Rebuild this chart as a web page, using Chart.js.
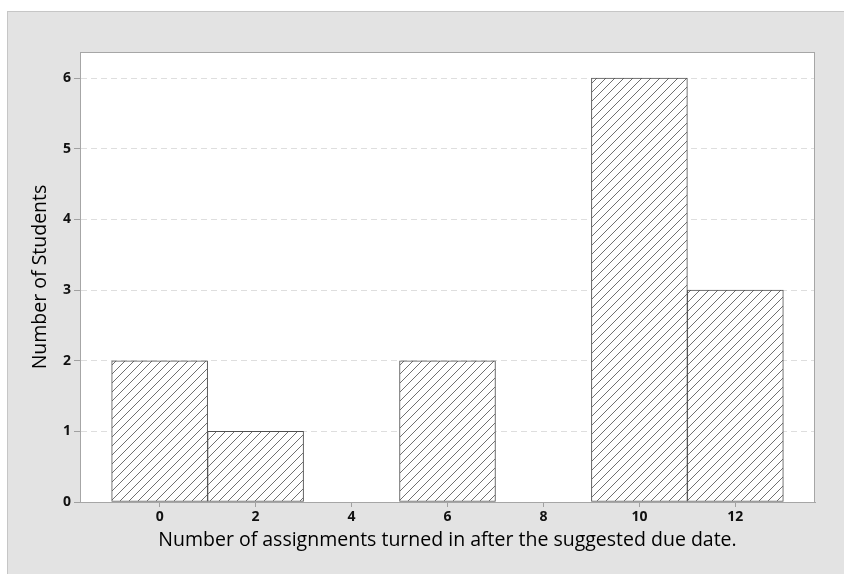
<!DOCTYPE html>
<html>
<head>
<meta charset="utf-8">
<script src="https://cdn.jsdelivr.net/npm/chart.js@4.4.0/dist/chart.umd.min.js"></script>
<style>
  html, body { margin: 0; padding: 0; background: #fff; }
  #frame { position: absolute; left: 7px; top: 11px; width: 837px; height: 563px;
           background: #e3e3e3; border-top: 1px solid #c6c6c6; border-left: 1px solid #c6c6c6; box-sizing: border-box; }
  #wrap { position: absolute; left: 0; top: 0; width: 844px; height: 574px; }
</style>
</head>
<body>
<div id="frame"></div>
<div id="wrap"><canvas id="histo" width="844" height="574"></canvas></div>
<script>
// bin midpoints and counts
var BINS = [0, 2, 4, 6, 8, 10, 12];
var COUNTS = [2, 1, 0, 2, 0, 6, 3];
var Y_TICKS = [0, 1, 2, 3, 4, 5, 6];
var X_TICKS = [0, 2, 4, 6, 8, 10, 12];
var X_TITLE = "Number of assignments turned in after the suggested due date.";
var Y_TITLE = "Number of Students";

function hatchPattern() {
	var s = 9;
	var c = document.createElement('canvas');
	c.width = s; c.height = s;
	var g = c.getContext('2d');
	g.fillStyle = '#ffffff';
	g.fillRect(0, 0, s, s);
	g.strokeStyle = '#707070';
	g.lineWidth = 1;
	g.beginPath();
	g.moveTo(-1, s + 1); g.lineTo(s + 1, -1);
	g.moveTo(-1, 1); g.lineTo(1, -1);
	g.moveTo(s - 1, s + 1); g.lineTo(s + 1, s - 1);
	g.stroke();
	return g.createPattern(c, 'repeat');
}

var plotFrame = {
	id: 'plotFrame',
	beforeDraw: function (chart) {
		var a = chart.chartArea, ctx = chart.ctx;
		ctx.save();
		ctx.fillStyle = '#ffffff';
		ctx.fillRect(a.left, a.top, a.right - a.left, a.bottom - a.top);
		ctx.restore();
	},
	afterDraw: function (chart) {
		var a = chart.chartArea, ctx = chart.ctx;
		ctx.save();
		ctx.strokeStyle = '#a6a6a6';
		ctx.lineWidth = 1;
		ctx.strokeRect(a.left + 0.5, a.top + 0.5, a.right - a.left - 1, a.bottom - a.top);
		ctx.restore();
	}
};

var data = BINS.map(function (b, i) { return { x: b, y: COUNTS[i] }; });
var tickFont = { family: 'Open Sans', size: 14, weight: 'bold' };
var titleFont = { family: 'Open Sans', size: 19.5 };

var ctx = document.getElementById('histo').getContext('2d');
window.myHisto = new Chart(ctx, {
	type: 'bar',
	data: {
		datasets: [{
			data: data,
			backgroundColor: hatchPattern(),
			borderColor: '#505050',
			borderWidth: 1,
			barPercentage: 1,
			categoryPercentage: 1,
			borderSkipped: false
		}]
	},
	options: {
		responsive: false,
		animation: false,
		layout: { padding: { top: 52, right: 29, left: 0, bottom: 0 } },
		plugins: { legend: { display: false }, tooltip: { enabled: false } },
		scales: {
			x: {
				type: 'linear',
				min: -1.66,
				max: 13.66,
				offset: false,
				afterBuildTicks: function (scale) { scale.ticks = X_TICKS.map(function (v) { return { value: v }; }); },
				afterFit: function (scale) { scale.height = 72; },
				grid: { display: true, offset: false, drawOnChartArea: false, drawTicks: true, tickLength: 5, tickColor: '#a0a0a0' },
				border: { display: true, color: '#a6a6a6' },
				ticks: { color: '#111', font: tickFont, padding: 2, maxRotation: 0, autoSkip: false },
				title: { display: true, text: X_TITLE, color: '#000', font: titleFont, padding: { top: 0, bottom: 22 } }
			},
			y: {
				min: 0,
				max: 6.37,
				afterBuildTicks: function (scale) { scale.ticks = Y_TICKS.map(function (v) { return { value: v }; }); },
				afterFit: function (scale) { scale.width = 80; },
				grid: { color: '#dedede', tickColor: '#a0a0a0', tickLength: 6 },
				border: { display: true, color: '#a6a6a6', dash: [6, 4] },
				ticks: { color: '#111', font: tickFont, padding: 3 },
				title: { display: true, text: Y_TITLE, color: '#000', font: titleFont, padding: { top: 29, bottom: 0 } }
			}
		}
	},
	plugins: [plotFrame]
});
</script>
</body>
</html>
